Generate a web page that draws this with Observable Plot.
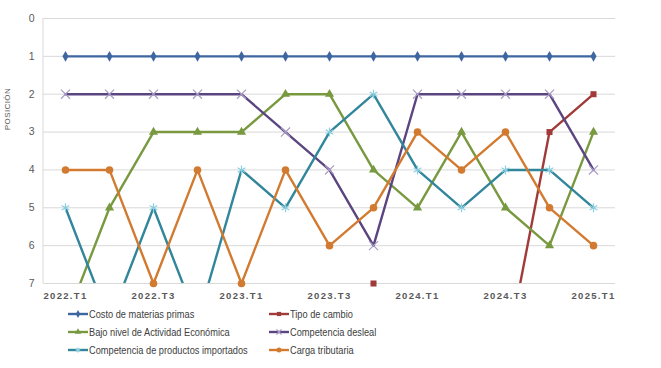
<!DOCTYPE html>
<html>
<head>
<meta charset="utf-8">
<script src="https://cdn.jsdelivr.net/npm/d3@7"></script>
<script src="https://cdn.jsdelivr.net/npm/@observablehq/plot@0.6"></script>
<style>
  html, body { margin: 0; padding: 0; background: #fff; }
  body { position: relative; width: 661px; height: 368px; overflow: hidden; font-family: "Liberation Sans", Arial, sans-serif; }
  #chart { position: absolute; left: 0; top: 0; }
  #ytitle { position: absolute; left: 7px; top: 109px; transform: translate(-50%, -50%) rotate(-90deg); font-size: 8px; color: #595959; letter-spacing: 0.4px; white-space: nowrap; }
  .leg { position: absolute; display: flex; align-items: center; font-family: "Liberation Sans", Arial, sans-serif; font-size: 11px; color: #404040; white-space: nowrap; }
  .leg svg { display: block; margin-right: 1px; }
  .leg span { display: inline-block; transform: scaleX(0.84); transform-origin: left center; }
</style>
</head>
<body>
<div id="chart"></div>
<div id="ytitle">POSICIÓN</div>
<div id="legend"></div>
<script>
const quarters = ["2022.T1","2022.T2","2022.T3","2022.T4","2023.T1","2023.T2","2023.T3","2023.T4","2024.T1","2024.T2","2024.T3","2024.T4","2025.T1"];
const xTickLabels = ["2022.T1","2022.T3","2023.T1","2023.T3","2024.T1","2024.T3","2025.T1"];
const yTicks = [0,1,2,3,4,5,6,7];

const costoMaterias   = [1,1,1,1,1,1,1,1,1,1,1,1,1];
const tipoCambio      = [8,8,8,8,8,8,8,7,8,8,9,3,2];
const bajaActividad   = [8,5,3,3,3,2,2,4,5,3,5,6,3];
const competenciaDesl = [2,2,2,2,2,3,4,6,2,2,2,2,4];
const competenciaImp  = [5,8,5,8,4,5,3,2,4,5,4,4,5];
const cargaTributaria = [4,4,7,4,7,4,6,5,3,4,3,5,6];

const seriesNames = ["Costo de materias primas","Tipo de cambio","Bajo nivel de Actividad Económica","Competencia desleal","Competencia de productos importados","Carga tributaria"];

const series = [
  {name: seriesNames[0], values: costoMaterias,   color: "#3E67A2", mcolor: "#3E67A2", symbol: "diamond",  r: 3.2, filled: true},
  {name: seriesNames[1], values: tipoCambio,      color: "#A03B39", mcolor: "#A03B39", symbol: "square",   r: 3.4, filled: true},
  {name: seriesNames[2], values: bajaActividad,   color: "#78993F", mcolor: "#78993F", symbol: "triangle", r: 3.4, filled: true},
  {name: seriesNames[3], values: competenciaDesl, color: "#5B4581", mcolor: "#A99CC4", symbol: "times",    r: 4.2, filled: false},
  {name: seriesNames[4], values: competenciaImp,  color: "#31869B", mcolor: "#8CCFE0", symbol: "asterisk", r: 4.2, filled: false},
  {name: seriesNames[5], values: cargaTributaria, color: "#D27B30", mcolor: "#D27B30", symbol: "circle",   r: 3.8, filled: true}
];

const marks = [
  Plot.ruleY(yTicks, {stroke: "#d9d9d9", strokeWidth: 1}),
  Plot.axisY({ticks: yTicks, tickFormat: d => String(d), tickSize: 0, tickPadding: 9, fontSize: 10.5, fill: "#595959", label: null}),
  Plot.axisX({ticks: xTickLabels, tickSize: 0, tickPadding: 9, fontSize: 9.5, fontWeight: "bold", fill: "#595959", label: null})
];
for (const s of series) {
  const data = quarters.map((q, i) => ({q, v: s.values[i]}));
  marks.push(Plot.line(data, {x: "q", y: "v", stroke: s.color, strokeWidth: 2.4, clip: true}));
}
for (const s of series) {
  const data = quarters.map((q, i) => ({q, v: s.values[i]})).filter(d => d.v <= 7);
  marks.push(Plot.dot(data, s.filled
    ? {x: "q", y: "v", symbol: s.symbol, r: s.r, fill: s.mcolor, stroke: "none"}
    : {x: "q", y: "v", symbol: s.symbol, r: s.r, stroke: s.mcolor, strokeWidth: 1.2, fill: "none"}));
}

const plot = Plot.plot({
  width: 661,
  height: 300,
  marginLeft: 43,
  marginRight: 46,
  marginTop: 18,
  marginBottom: 17,
  style: {fontFamily: "'Liberation Sans', Arial, sans-serif", background: "white"},
  x: {type: "point", domain: quarters, padding: 0.5, axis: null},
  y: {domain: [0, 7], reverse: true, axis: null},
  marks
});
document.getElementById("chart").appendChild(plot);

// faint left axis line and letter-spacing for x labels
const ys = plot.scale("y");
const svg = d3.select(plot);
svg.append("line")
  .attr("x1", 43).attr("x2", 43)
  .attr("y1", ys.apply(0)).attr("y2", ys.apply(7))
  .attr("stroke", "#d9d9d9");
svg.selectAll("text").filter(function() { return xTickLabels.includes(this.textContent); })
  .attr("letter-spacing", "1.3px");

// legend
const legend = document.getElementById("legend");
const legPos = [[68, 314], [269, 314], [68, 332], [269, 332], [68, 350], [269, 350]];
series.forEach((s, i) => {
  const div = document.createElement("div");
  div.className = "leg";
  div.style.left = legPos[i][0] + "px";
  div.style.top = (legPos[i][1] - 8) + "px";
  div.style.height = "16px";
  const sym = d3.symbol(
    {diamond: d3.symbolDiamond, square: d3.symbolSquare, triangle: d3.symbolTriangle, times: d3.symbolTimes, asterisk: d3.symbolAsterisk, circle: d3.symbolCircle}[s.symbol],
    s.symbol === "circle" ? 20 : 18)();
  div.innerHTML = `<svg width="20" height="16"><line x1="0" x2="20" y1="8" y2="8" stroke="${s.color}" stroke-width="2.4"/>` +
    `<path transform="translate(10,8)" d="${sym}" fill="${s.filled ? s.mcolor : "none"}" stroke="${s.filled ? "none" : s.mcolor}" stroke-width="1.2"/></svg>` +
    `<span>${s.name}</span>`;
  legend.appendChild(div);
});
</script>
</body>
</html>
